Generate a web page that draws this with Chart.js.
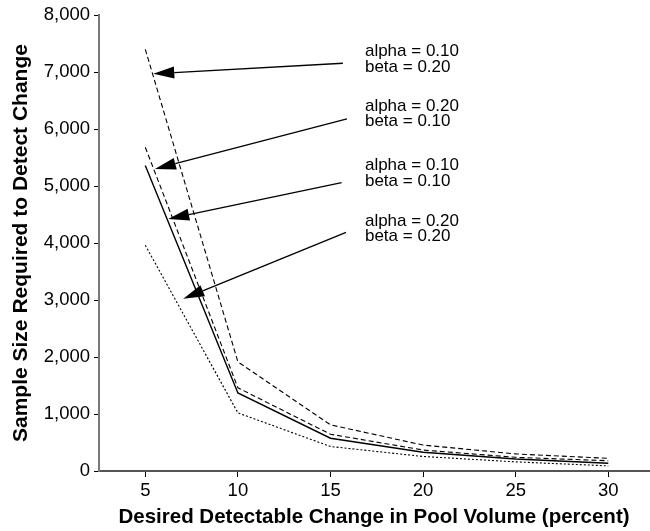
<!DOCTYPE html>
<html>
<head>
<meta charset="utf-8">
<script src="https://cdn.jsdelivr.net/npm/chart.js@4/dist/chart.umd.min.js"></script>
<style>
html,body{margin:0;padding:0;background:#fff;}
#wrap{width:650px;height:531px;position:relative;}
</style>
</head>
<body>
<div id="wrap"><canvas id="c" width="650" height="531"></canvas></div>
<script>
// ---- data ----
const changePct = [5, 10, 15, 20, 25, 30];
const a10b20 = [7400, 1915, 810, 455, 300, 222];
const a20b10 = [5680, 1460, 645, 368, 240, 180];
const a10b10 = [5360, 1370, 575, 330, 210, 135];
const a20b20 = [3960, 1020, 430, 255, 160, 90];
const xTickValues = [5, 10, 15, 20, 25, 30];
const yTickValues = [0, 1000, 2000, 3000, 4000, 5000, 6000, 7000, 8000];
const seriesNames = ['alpha = 0.10, beta = 0.20', 'alpha = 0.20, beta = 0.10', 'alpha = 0.10, beta = 0.10', 'alpha = 0.20, beta = 0.20'];
const labelLines = [
  ['alpha = 0.10', 'beta = 0.20'],
  ['alpha = 0.20', 'beta = 0.10'],
  ['alpha = 0.10', 'beta = 0.10'],
  ['alpha = 0.20', 'beta = 0.20']
];
const xTitle = 'Desired Detectable Change in Pool Volume (percent)';
const yTitle = 'Sample Size Required to Detect Change';

// annotation anchors in data units (label baseline, arrow tail and tip)
const labelAnchorX = [16.86, 16.86, 16.86, 16.86];
const labelAnchorY = [7282, 6324, 5281, 4306];
const arrowTailX = [15.67, 15.89, 15.60, 15.84];
const arrowTailY = [7155, 6179, 5059, 4189];
const arrowTipX = [5.43, 5.52, 6.24, 7.05];
const arrowTipY = [6972, 5299, 4424, 3023];

const FONT = "'Liberation Sans', Arial, Helvetica, sans-serif";

const pairs = arr => changePct.map((v, i) => ({x: v, y: arr[i]}));

const annotPlugin = {
  id: 'annot',
  afterDatasetsDraw(chart) {
    const {ctx, scales: {x, y}} = chart;
    ctx.save();
    // arrows
    for (let i = 0; i < arrowTipX.length; i++) {
      const tx = x.getPixelForValue(arrowTipX[i]), ty = y.getPixelForValue(arrowTipY[i]);
      const sx = x.getPixelForValue(arrowTailX[i]), sy = y.getPixelForValue(arrowTailY[i]);
      const ang = Math.atan2(sy - ty, sx - tx);
      const len = 21, hw = 6;
      const bx = tx + Math.cos(ang) * len, by = ty + Math.sin(ang) * len;
      ctx.strokeStyle = '#000';
      ctx.lineWidth = 1.3;
      ctx.beginPath();
      ctx.moveTo(sx, sy);
      ctx.lineTo(bx, by);
      ctx.stroke();
      ctx.fillStyle = '#000';
      ctx.beginPath();
      ctx.moveTo(tx, ty);
      ctx.lineTo(bx - Math.sin(ang) * hw, by + Math.cos(ang) * hw);
      ctx.lineTo(bx + Math.sin(ang) * hw, by - Math.cos(ang) * hw);
      ctx.closePath();
      ctx.fill();
    }
    // labels
    ctx.fillStyle = '#000';
    ctx.font = '17px ' + FONT;
    ctx.textAlign = 'left';
    ctx.textBaseline = 'alphabetic';
    for (let i = 0; i < labelLines.length; i++) {
      const lx = x.getPixelForValue(labelAnchorX[i]);
      const ly = y.getPixelForValue(labelAnchorY[i]);
      labelLines[i].forEach((t, k) => ctx.fillText(t, lx, ly + k * 15.7));
    }
    ctx.restore();
  }
};

const ds = (label, arr, dash, width) => ({
  label, data: pairs(arr), borderColor: '#000', backgroundColor: '#000',
  borderWidth: width, borderDash: dash, pointRadius: 0, tension: 0, fill: false
});

new Chart(document.getElementById('c'), {
  type: 'line',
  data: {
    datasets: [
      ds(seriesNames[0], a10b20, [5, 3], 1.1),
      ds(seriesNames[1], a20b10, [5, 3], 1.1),
      ds(seriesNames[2], a10b10, [], 1.4),
      ds(seriesNames[3], a20b20, [2, 2], 1.1)
    ]
  },
  options: {
    responsive: false,
    animation: false,
    events: [],
    layout: {padding: {top: 14, right: 1, left: 0, bottom: 0}},
    plugins: {legend: {display: false}, tooltip: {enabled: false}},
    scales: {
      x: {
        type: 'linear', min: 2.5, max: 32.2,
        afterBuildTicks: s => { s.ticks = xTickValues.map(v => ({value: v})); },
        afterFit: s => { s.height = 60; },
        ticks: {color: '#000', font: {family: FONT, size: 18.5}, padding: 3, maxRotation: 0, autoSkip: false,
          callback: v => String(v)},
        grid: {drawOnChartArea: false, drawTicks: true, tickLength: 6, color: '#000', lineWidth: 1},
        border: {display: true, color: '#555', width: 2},
        title: {display: true, text: xTitle, color: '#000', font: {family: FONT, size: 20.5, weight: 'bold'},
          padding: {top: 0, bottom: 1}}
      },
      y: {
        type: 'linear', min: 0, max: 8000,
        afterBuildTicks: s => { s.ticks = yTickValues.map(v => ({value: v})); },
        afterFit: s => { s.width = 99; },
        ticks: {color: '#000', font: {family: FONT, size: 18.5}, padding: 4,
          callback: v => Number(v).toLocaleString('en-US')},
        grid: {drawOnChartArea: false, drawTicks: true, tickLength: 5, color: '#000', lineWidth: 1},
        border: {display: true, color: '#777', width: 2},
        title: {display: true, text: yTitle, color: '#000', font: {family: FONT, size: 21, weight: 'bold'},
          padding: {top: 9, bottom: 0}}
      }
    }
  },
  plugins: [annotPlugin]
});
</script>
</body>
</html>
